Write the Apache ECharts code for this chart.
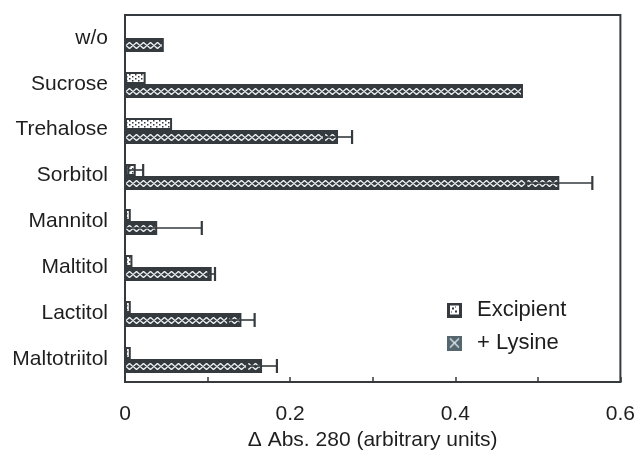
<!DOCTYPE html>
<html>
<head>
<meta charset="utf-8">
<script src="https://cdn.jsdelivr.net/npm/echarts@6/dist/echarts.min.js"></script>
<style>
  html, body { margin: 0; padding: 0; background: #ffffff; }
  #chart { width: 638px; height: 456px; }
</style>
</head>
<body>
<div id="chart"></div>
<script>
// Categories (top to bottom) and measured values
const categories = ['w/o', 'Sucrose', 'Trehalose', 'Sorbitol', 'Mannitol', 'Maltitol', 'Lactitol', 'Maltotriitol'];
const excipientValues = [0, 0.025, 0.057, 0.013, 0.007, 0.009, 0.007, 0.007];
const excipientErrors = [0, 0, 0, 0.009, 0, 0, 0, 0];
const lysineValues = [0.047, 0.482, 0.258, 0.526, 0.039, 0.105, 0.141, 0.166];
const lysineErrors = [0, 0, 0.017, 0.040, 0.054, 0.004, 0.016, 0.018];
const xTicks = [0, 0.2, 0.4, 0.6];
const seriesNames = ['Excipient', '+ Lysine'];
const axisTitle = 'Δ Abs. 280 (arbitrary units)';

const INK = '#343a3e';
const TEXT = '#1e1e1e';
const FONT = '"Liberation Sans", Arial, sans-serif';

function makeCanvas(w, h, draw) {
  const c = document.createElement('canvas');
  c.width = w; c.height = h;
  draw(c.getContext('2d'), w, h);
  return c;
}

// Sparse dot fill for the excipient bars
const dotTile = makeCanvas(6, 4, (g) => {
  g.fillStyle = '#ffffff'; g.fillRect(0, 0, 6, 4);
  g.fillStyle = INK;
  g.fillRect(1, 0, 1.5, 1.5);
  g.fillRect(4, 2, 1.5, 1.5);
});

// Diamond chain for the lysine bars
const diamondTile = makeCanvas(7, 7, (g) => {
  g.fillStyle = INK; g.fillRect(0, 0, 7, 7);
  g.strokeStyle = '#eef3f6'; g.lineWidth = 1.3;
  g.beginPath();
  g.moveTo(0, 3.5); g.lineTo(3.5, 0.4); g.lineTo(7, 3.5); g.lineTo(3.5, 6.6); g.closePath();
  g.stroke();
});

// Legend swatches
const excipientIcon = makeCanvas(15, 15, (g) => {
  g.fillStyle = INK; g.fillRect(0, 0, 15, 15);
  g.fillStyle = '#ffffff'; g.fillRect(3, 3, 9, 9);
  g.fillStyle = INK;
  g.fillRect(5, 5, 2, 2); g.fillRect(8, 8, 2, 2); g.fillRect(8, 4, 1, 1); g.fillRect(4, 9, 1, 1);
});
const lysineIcon = makeCanvas(15, 15, (g) => {
  g.fillStyle = '#56666e'; g.fillRect(0, 0, 15, 15);
  g.strokeStyle = '#dce8ef'; g.lineWidth = 1.4;
  g.beginPath();
  g.moveTo(3, 3); g.lineTo(12, 12); g.moveTo(12, 3); g.lineTo(3, 12);
  g.stroke();
});

function errorBar(api, idx, v, e, yc, capH) {
  const out = [];
  if (!e) return out;
  const lo = api.coord([v - e, idx])[0];
  const hi = api.coord([v + e, idx])[0];
  out.push({ type: 'line', shape: { x1: lo, y1: yc, x2: hi, y2: yc }, style: { stroke: INK, lineWidth: 1.6 } });
  out.push({ type: 'line', shape: { x1: hi, y1: yc - capH / 2, x2: hi, y2: yc + capH / 2 }, style: { stroke: INK, lineWidth: 2.2 } });
  out.push({ type: 'line', shape: { x1: lo, y1: yc - capH / 2, x2: lo, y2: yc + capH / 2 }, style: { stroke: INK, lineWidth: 2.2 } });
  return out;
}

function renderExcipient(params, api) {
  const idx = api.value(0), v = api.value(1), e = api.value(2);
  if (!v) return { type: 'group', children: [] };
  const p0 = api.coord([0, idx]);
  const p1 = api.coord([v, idx]);
  const band = api.size([0, 1])[1];
  const h = Math.round(band * 0.26);
  const y = Math.round(p0[1]) - h;
  const children = [{
    type: 'rect',
    shape: { x: p0[0] + 1, y: y + 1, width: p1[0] - p0[0] - 2, height: h - 2 },
    style: { fill: { type: 'pattern', image: dotTile, repeat: 'repeat', x: p0[0], y: y }, stroke: INK, lineWidth: 2 }
  }];
  return { type: 'group', children: children.concat(errorBar(api, idx, v, e, y + h / 2, h)) };
}

function renderLysine(params, api) {
  const idx = api.value(0), v = api.value(1), e = api.value(2);
  const p0 = api.coord([0, idx]);
  const p1 = api.coord([v, idx]);
  const band = api.size([0, 1])[1];
  const h = Math.round(band * 0.31);
  const y = Math.round(p0[1]);
  const w = p1[0] - p0[0];
  const inner = 7;
  const iy = y + Math.round((h - inner) / 2);
  const children = [
    { type: 'rect', shape: { x: p0[0], y: y, width: w, height: h }, style: { fill: INK } },
    { type: 'rect', shape: { x: p0[0] + 1, y: iy, width: Math.max(0, w - 3), height: inner },
      style: { fill: { type: 'pattern', image: diamondTile, repeat: 'repeat', x: p0[0] + 1, y: iy } } }
  ];
  return { type: 'group', children: children.concat(errorBar(api, idx, v, e, y + h / 2, h)) };
}

const chart = echarts.init(document.getElementById('chart'), null, { renderer: 'canvas' });
chart.setOption({
  backgroundColor: '#ffffff',
  animation: false,
  textStyle: { fontFamily: FONT },
  grid: { left: 125, right: 14, top: 15, bottom: 74, show: true, borderColor: INK, borderWidth: 2 },
  legend: {
    orient: 'vertical', left: 447, top: 299, padding: 0,
    itemWidth: 15, itemHeight: 15, itemGap: 11,
    textStyle: { fontSize: 22, color: TEXT, fontFamily: FONT, lineHeight: 22, padding: [0, 0, 0, 10] },
    data: [
      { name: seriesNames[0], icon: 'image://' + excipientIcon.toDataURL() },
      { name: seriesNames[1], icon: 'image://' + lysineIcon.toDataURL() }
    ]
  },
  xAxis: {
    type: 'value',
    min: xTicks[0], max: xTicks[xTicks.length - 1], interval: xTicks[1] - xTicks[0],
    name: axisTitle, nameLocation: 'middle', nameGap: 47,
    nameTextStyle: { fontSize: 21, color: TEXT, fontFamily: FONT },
    axisLine: { show: true, lineStyle: { color: INK, width: 2 } },
    axisTick: { show: true, inside: true, length: 5, lineStyle: { color: INK, width: 1.5 } },
    minorTick: { show: true, splitNumber: 2, length: 5, lineStyle: { color: INK, width: 1.5 } },
    splitLine: { show: false },
    axisLabel: { fontSize: 21, color: TEXT, margin: 22, fontFamily: FONT }
  },
  yAxis: {
    type: 'category', inverse: true, data: categories,
    axisLine: { show: true, lineStyle: { color: INK, width: 2 } },
    axisTick: { show: false },
    axisLabel: { fontSize: 21, color: TEXT, margin: 17, fontFamily: FONT }
  },
  series: [
    {
      name: seriesNames[0], type: 'custom', clip: true,
      renderItem: renderExcipient,
      encode: { x: 1, y: 0 },
      data: categories.map((c, i) => [i, excipientValues[i], excipientErrors[i]])
    },
    {
      name: seriesNames[1], type: 'custom', clip: true,
      renderItem: renderLysine,
      encode: { x: 1, y: 0 },
      data: categories.map((c, i) => [i, lysineValues[i], lysineErrors[i]])
    }
  ]
});
</script>
</body>
</html>
